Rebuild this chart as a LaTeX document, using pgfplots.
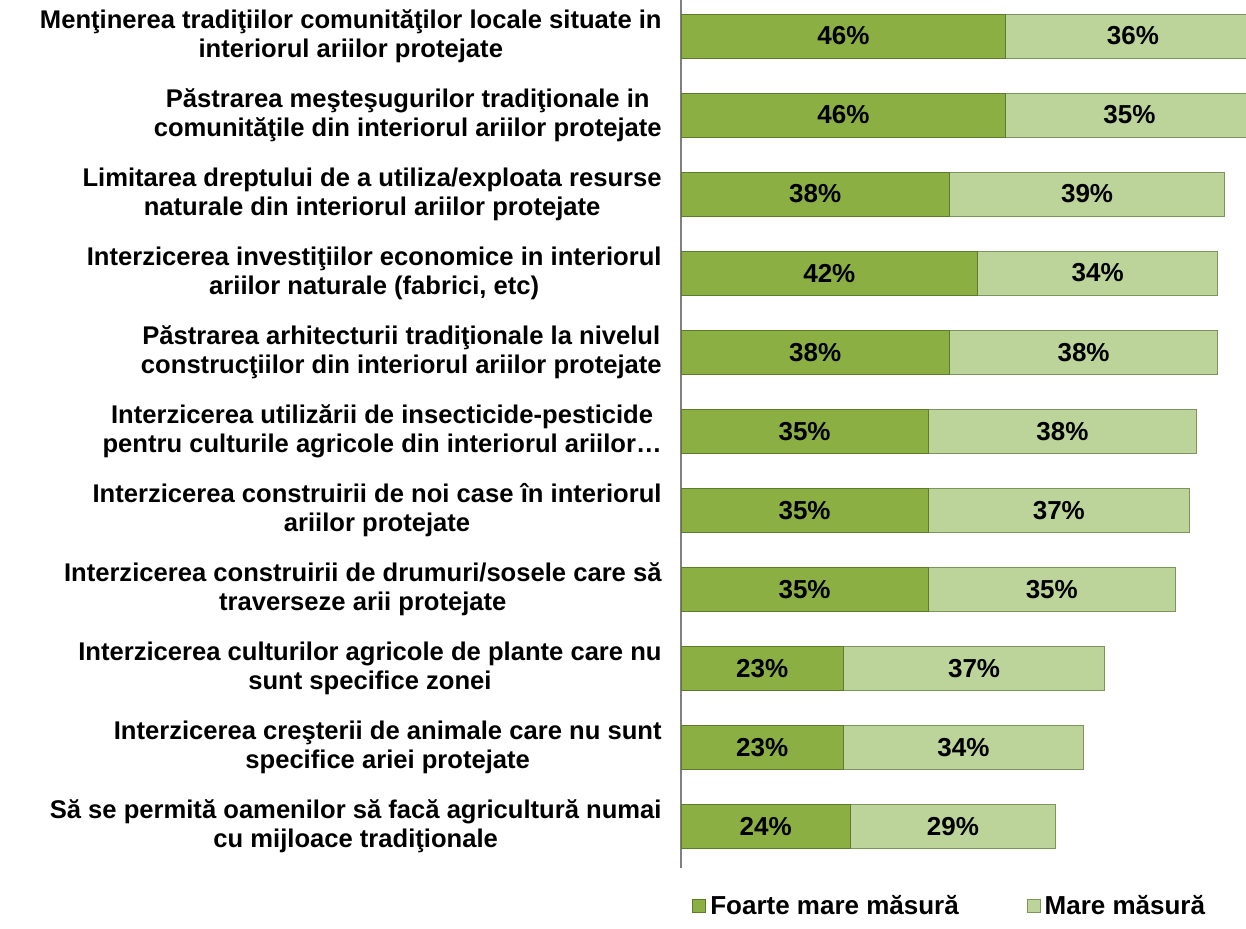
\documentclass[border=0pt]{standalone}
\usepackage{pgfplots}
\pgfplotsset{compat=1.18}
\usepackage{pgfplotstable}
\usepackage{fontspec}
\setmainfont{Liberation Sans}
\definecolor{darkg}{HTML}{8CAF44}
\definecolor{darkgborder}{HTML}{5E7A2C}
\definecolor{lightg}{HTML}{BCD49A}
\definecolor{lightgborder}{HTML}{7D955C}

\pgfplotstableread{
idx a b
0 46 36
1 46 35
2 38 39
3 42 34
4 38 38
5 35 38
6 35 37
7 35 35
8 23 37
9 23 34
10 24 29
}\datatable

\begin{document}
\begin{tikzpicture}
\useasboundingbox (0,0) rectangle (623pt,464pt);
\begin{axis}[
  at={(340.5pt,30pt)}, anchor=south west,
  scale only axis, width=282.5pt, height=434pt,
  xmin=0, xmax=80, ymin=-0.456, ymax=10.53, y dir=reverse,
  axis x line=none, axis y line*=left,
  y axis line style={-, draw=gray, line width=1pt},
  xtick=\empty, ytick={0,...,10},
  yticklabels={
    {Menţinerea tradiţiilor comunităţilor locale situate in\\interiorul ariilor protejate},
    {Păstrarea meşteşugurilor tradiţionale in\\comunităţile din interiorul ariilor protejate},
    {Limitarea dreptului de a utiliza/exploata resurse\\naturale din interiorul ariilor protejate},
    {Interzicerea investiţiilor economice in interiorul\\ariilor naturale (fabrici, etc)},
    {Păstrarea arhitecturii tradiţionale la nivelul\\construcţiilor din interiorul ariilor protejate},
    {Interzicerea utilizării de insecticide-pesticide\\pentru culturile agricole din interiorul ariilor…},
    {Interzicerea construirii de noi case în interiorul\\ariilor protejate},
    {Interzicerea construirii de drumuri/sosele care să\\traverseze arii protejate},
    {Interzicerea culturilor agricole de plante care nu\\sunt specifice zonei},
    {Interzicerea creşterii de animale care nu sunt\\specifice ariei protejate},
    {Să se permită oamenilor să facă agricultură numai\\cu mijloace tradiţionale}
  },
  ytick style={draw=none}, major tick length=0pt,
  yticklabel style={align=center, font=\fontsize{12.8}{14.5}\selectfont\bfseries, inner sep=0pt, xshift=-9.5pt},
  legend style={at={(0.4775,-0.0438)}, anchor=center, draw=none, fill=none,
    legend columns=2, font=\fontsize{13}{15}\selectfont\bfseries,
    /tikz/every even column/.append style={column sep=32pt}},
]
\addplot[xbar, bar width=22pt, bar shift=0pt, draw=lightgborder, fill=lightg, forget plot]
  table[y=idx, x expr=\thisrow{a}+\thisrow{b}] {\datatable};
\addplot[xbar, bar width=22pt, bar shift=0pt, draw=darkgborder, fill=darkg, forget plot]
  table[y=idx, x=a] {\datatable};
\addplot[draw=none, mark=none, forget plot, point meta=explicit symbolic,
  nodes near coords={\pgfplotspointmeta\%},
  every node near coord/.append style={anchor=center, font=\fontsize{13}{15}\selectfont\bfseries}]
  table[y=idx, x expr=\thisrow{a}/2, meta=a] {\datatable};
\addplot[draw=none, mark=none, forget plot, point meta=explicit symbolic,
  nodes near coords={\pgfplotspointmeta\%},
  every node near coord/.append style={anchor=center, font=\fontsize{13}{15}\selectfont\bfseries}]
  table[y=idx, x expr=\thisrow{a}+\thisrow{b}/2, meta=b] {\datatable};
\addlegendimage{legend image code/.code={\draw[draw=darkgborder, fill=darkg] (0pt,-3.25pt) rectangle (6.5pt,3.25pt);}}
\addlegendentry{Foarte mare măsură}
\addlegendimage{legend image code/.code={\draw[draw=lightgborder, fill=lightg] (0pt,-3.25pt) rectangle (6.5pt,3.25pt);}}
\addlegendentry{Mare măsură}
\end{axis}
\end{tikzpicture}
\end{document}
